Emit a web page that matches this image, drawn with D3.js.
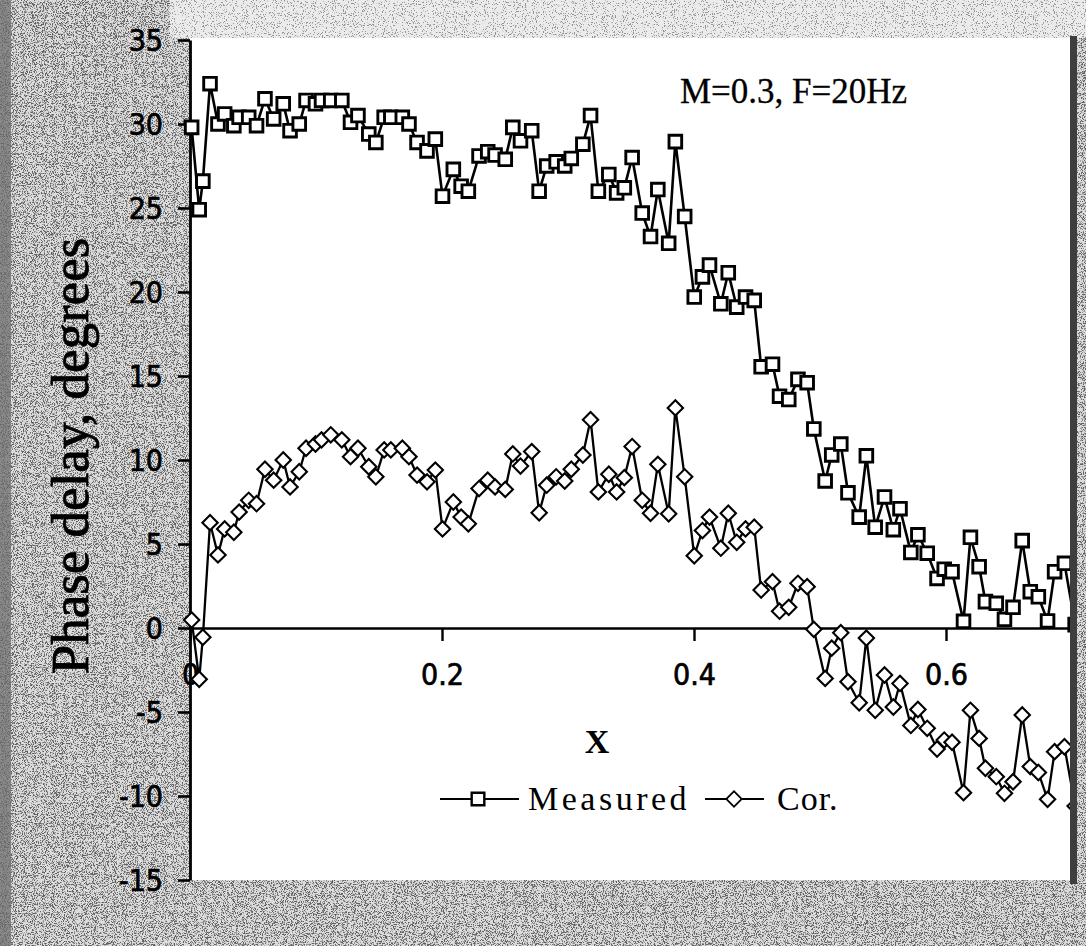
<!DOCTYPE html>
<html><head><meta charset="utf-8">
<script src="https://cdn.jsdelivr.net/npm/d3@7"></script>
<style>html,body{margin:0;padding:0;background:#c6c6c6;} svg{display:block;}</style>
</head><body>
<svg id="chart" width="1086" height="946"></svg>
<script>
// ---- data ----
const xValues = [
 0.0013,0.0073,0.0102,0.0159,0.0222,0.0275,0.0348,0.039,0.0466,0.0528,
 0.0595,0.0664,0.074,0.0794,0.0867,0.0921,0.0996,0.1044,0.1117,0.1205,
 0.1274,0.1333,0.1419,0.1475,0.1541,0.1594,0.1685,0.1738,0.1802,0.1881,
 0.1947,0.2004,
 0.209,0.2152,0.2209,0.2294,0.2363,0.2421,0.2502,0.2562,0.2623,0.2712,
 0.2771,0.2831,0.2906,0.2974,0.3026,0.3118,0.3179,0.3241,0.3324,0.3386,
 0.3447,0.3509,0.3589,0.3655,0.3713,0.3799,0.3852,0.3926,0.4002,0.4067,
 0.4123,0.4213,0.4272,0.4339,0.4409,0.4478,
 0.4533,0.4623,0.4679,0.4752,0.4825,0.4898,0.4951,0.5041,0.5093,0.5165,
 0.5222,0.5311,0.5368,0.5438,0.5512,0.5582,0.5635,0.5721,0.5777,0.5851,
 0.5929,0.5986,0.6048,0.6139,0.6194,0.6263,0.6313,0.6399,0.6464,0.6532,
 0.6605,0.6669,0.6733,0.6806,0.6862,0.694,0.7025
];
const measured = [
 29.8,24.9,26.6,32.4,30.0,30.6,29.9,30.4,30.4,29.9,
 31.5,30.3,31.2,29.6,30.0,31.4,31.2,31.4,31.4,31.4,
 30.1,30.5,29.4,28.9,30.4,30.4,30.4,30.0,28.9,28.4,
 29.1,25.7,
 27.3,26.3,26.0,28.1,28.35,28.15,27.9,29.8,29.0,29.6,
 26.0,27.5,27.75,27.5,27.95,28.8,30.5,26.0,27.0,25.9,
 26.2,28.0,24.7,23.3,26.1,22.9,28.95,24.5,19.7,20.9,
 21.6,19.3,21.15,19.1,19.7,19.5,
 15.55,15.7,13.8,13.6,14.8,14.6,11.85,8.75,10.3,10.95,
 8.05,6.6,10.25,6.0,7.8,5.85,7.1,4.5,5.55,4.45,
 2.95,3.5,3.35,0.4,5.4,3.65,1.57,1.47,0.52,1.23,
 5.2,2.16,1.86,0.42,3.35,3.85,0.2
];
const corrected = [
 0.48,-3.05,-0.55,6.27,4.35,5.9,5.7,6.9,7.6,7.4,
 9.45,8.8,10.0,8.4,9.3,10.7,10.95,11.2,11.5,11.2,
 10.2,10.7,9.6,9.0,10.6,10.6,10.7,10.2,9.1,8.7,
 9.4,5.9,
 7.5,6.6,6.2,8.3,8.8,8.4,8.25,10.36,9.64,10.5,
 6.86,8.5,9.0,8.75,9.45,10.3,12.4,8.1,9.15,8.1,
 8.95,10.8,7.6,6.83,9.74,6.8,13.1,9.0,4.3,5.8,
 6.6,4.75,6.83,5.1,5.9,6.0,
 2.26,2.76,1.0,1.23,2.66,2.46,-0.08,-3.0,-1.2,-0.28,
 -3.2,-4.45,-0.6,-4.9,-2.8,-4.7,-3.3,-5.8,-4.85,-5.97,
 -7.2,-6.67,-6.8,-9.8,-4.9,-6.57,-8.35,-8.85,-9.84,-9.15,
 -5.18,-8.25,-8.6,-10.2,-7.36,-7.07,-10.6
];
const seriesNames = ["Measured", "Cor."];
const xTicks = [0, 0.2, 0.4, 0.6];
const yTicks = [-15, -10, -5, 0, 5, 10, 15, 20, 25, 30, 35];
const xTitle = "X";
const yTitle = "Phase delay, degrees";
const annotation = "M=0.3, F=20Hz";

// ---- layout ----
const W = 1086, H = 946;
const plot = {left: 190, right: 1072, top: 40, bottom: 880};
const x = d3.scaleLinear().domain([0, 0.7]).range([plot.left, plot.right]);
const y = d3.scaleLinear().domain([-15, 35]).range([plot.bottom, plot.top]);
const serif = "'Liberation Serif','Times New Roman',serif";
const narrow = "'Liberation Sans Narrow','Arial Narrow','DejaVu Sans Condensed',sans-serif";

const svg = d3.select("#chart");
const defs = svg.append("defs");

// scanned-paper grain for the grey surround
function grainFilter(id, seed, tone, gain, bias) {
  const f = defs.append("filter").attr("id", id)
    .attr("filterUnits", "userSpaceOnUse").attr("x", 0).attr("y", 0).attr("width", W).attr("height", H);
  f.append("feTurbulence").attr("type", "fractalNoise").attr("baseFrequency", 0.9)
    .attr("numOctaves", 2).attr("seed", seed);
  f.append("feColorMatrix").attr("type", "matrix")
    .attr("values", `0 0 0 0 ${tone}  0 0 0 0 ${tone}  0 0 0 0 ${tone}  ${gain} 0 0 0 ${bias}`);
}
grainFilter("grain", 7, 0.12, 16, -8.6);
grainFilter("grainLight", 3, 0.3, 16, -9.6);

defs.append("clipPath").attr("id", "clip").append("rect")
  .attr("x", 0).attr("y", 0).attr("width", 1076).attr("height", H);

// background
svg.append("rect").attr("width", W).attr("height", H).attr("fill", "#dcdcdc");
svg.append("rect").attr("width", W).attr("height", H).attr("fill", "#000").attr("filter", "url(#grain)");
// lighter band along the top
svg.append("rect").attr("x", 170).attr("y", 0).attr("width", W - 170).attr("height", plot.top - 2).attr("fill", "#ebebeb");
svg.append("rect").attr("x", 170).attr("y", 0).attr("width", W - 170).attr("height", plot.top - 2)
  .attr("fill", "#000").attr("filter", "url(#grainLight)");
// darker left edge
svg.append("rect").attr("x", 0).attr("y", 0).attr("width", 11).attr("height", H).attr("fill", "#6e6e6e").attr("opacity", 0.75);

// plot area
svg.append("rect").attr("x", plot.left).attr("y", plot.top - 2)
  .attr("width", plot.right - plot.left).attr("height", plot.bottom - plot.top + 2).attr("fill", "#fff");

// axes
const yAxis = svg.append("g").attr("transform", `translate(${plot.left},0)`)
  .call(d3.axisLeft(y).tickValues(yTicks).tickSize(12).tickSizeOuter(0).tickFormat(d => String(d)));
yAxis.select(".domain").attr("stroke", "#000").attr("stroke-width", 2.8);
yAxis.selectAll(".tick line").attr("stroke", "#000").attr("stroke-width", 2.6);
yAxis.selectAll(".tick text").attr("x", -27).attr("dy", "0.36em")
  .attr("font-family", narrow).attr("font-size", 30).attr("fill", "#000")
  .attr("stroke", "#000").attr("stroke-width", 0.7);

const xAxis = svg.append("g").attr("transform", `translate(0,${y(0)})`)
  .call(d3.axisBottom(x).tickValues(xTicks).tickSize(13).tickSizeOuter(0).tickFormat(d => String(d)));
xAxis.select(".domain").attr("stroke", "#000").attr("stroke-width", 2.6);
xAxis.selectAll(".tick line").attr("stroke", "#000").attr("stroke-width", 2.4);
xAxis.selectAll(".tick text").attr("y", 57).attr("dy", 0)
  .attr("font-family", narrow).attr("font-size", 30).attr("fill", "#000")
  .attr("stroke", "#000").attr("stroke-width", 0.7);

// series
const mData = xValues.map((v, i) => ({x: v, y: measured[i]}));
const cData = xValues.map((v, i) => ({x: v, y: corrected[i]}));
const line = d3.line().x(d => x(d.x)).y(d => y(d.y));
const dataG = svg.append("g").attr("clip-path", "url(#clip)");

dataG.append("path").datum(mData).attr("d", line)
  .attr("fill", "none").attr("stroke", "#000").attr("stroke-width", 2.6);
dataG.append("path").datum(cData).attr("d", line)
  .attr("fill", "none").attr("stroke", "#000").attr("stroke-width", 2.3);

const squareSym = d3.symbol(d3.symbolSquare, 160);
const diamondSym = d3.symbol(d3.symbolSquare, 118);

dataG.selectAll(".sq").data(mData).join("path").attr("class", "sq")
  .attr("d", squareSym).attr("transform", d => `translate(${x(d.x)},${y(d.y)})`)
  .attr("fill", "#fff").attr("stroke", "#000").attr("stroke-width", 2.9);
dataG.selectAll(".dm").data(cData).join("path").attr("class", "dm")
  .attr("d", diamondSym).attr("transform", d => `translate(${x(d.x)},${y(d.y)}) rotate(45)`)
  .attr("fill", "#fff").attr("stroke", "#000").attr("stroke-width", 2.1);

// dark scanned right border of the plot
svg.append("rect").attr("x", 1070).attr("y", plot.top - 4).attr("width", 7).attr("height", plot.bottom - plot.top + 8)
  .attr("fill", "#3e3e3e");

// titles
svg.append("text").attr("transform", `translate(88,456) rotate(-90)`)
  .attr("text-anchor", "middle").attr("font-family", serif).attr("font-size", 53)
  .attr("fill", "#000").attr("stroke", "#000").attr("stroke-width", 0.8).text(yTitle);
svg.append("text").attr("x", 597).attr("y", 753).attr("text-anchor", "middle")
  .attr("font-family", serif).attr("font-weight", "bold").attr("font-size", 34).attr("fill", "#000").text(xTitle);
svg.append("text").attr("x", 680).attr("y", 103)
  .attr("font-family", serif).attr("font-size", 35).attr("fill", "#000")
  .attr("stroke", "#000").attr("stroke-width", 0.3).text(annotation);

// legend
const legY = 799;
const leg = svg.append("g");
const legItems = [
  {name: seriesNames[0], x0: 440, x1: 519, mx: 478, tx: 528, sym: squareSym, rot: 0, sw: 2.4, ls: 3.5},
  {name: seriesNames[1], x0: 705, x1: 764, mx: 734, tx: 777, sym: diamondSym, rot: 45, sw: 1.8, ls: 1}
];
legItems.forEach(it => {
  leg.append("line").attr("x1", it.x0).attr("x2", it.x1).attr("y1", legY).attr("y2", legY)
    .attr("stroke", "#000").attr("stroke-width", 2.2);
  leg.append("path").attr("d", it.sym).attr("transform", `translate(${it.mx},${legY}) rotate(${it.rot})`)
    .attr("fill", "#fff").attr("stroke", "#000").attr("stroke-width", it.sw);
  leg.append("text").attr("x", it.tx).attr("y", legY + 11).attr("font-family", serif)
    .attr("font-size", 34).attr("letter-spacing", it.ls).attr("fill", "#000").text(it.name);
});
</script>
</body></html>
